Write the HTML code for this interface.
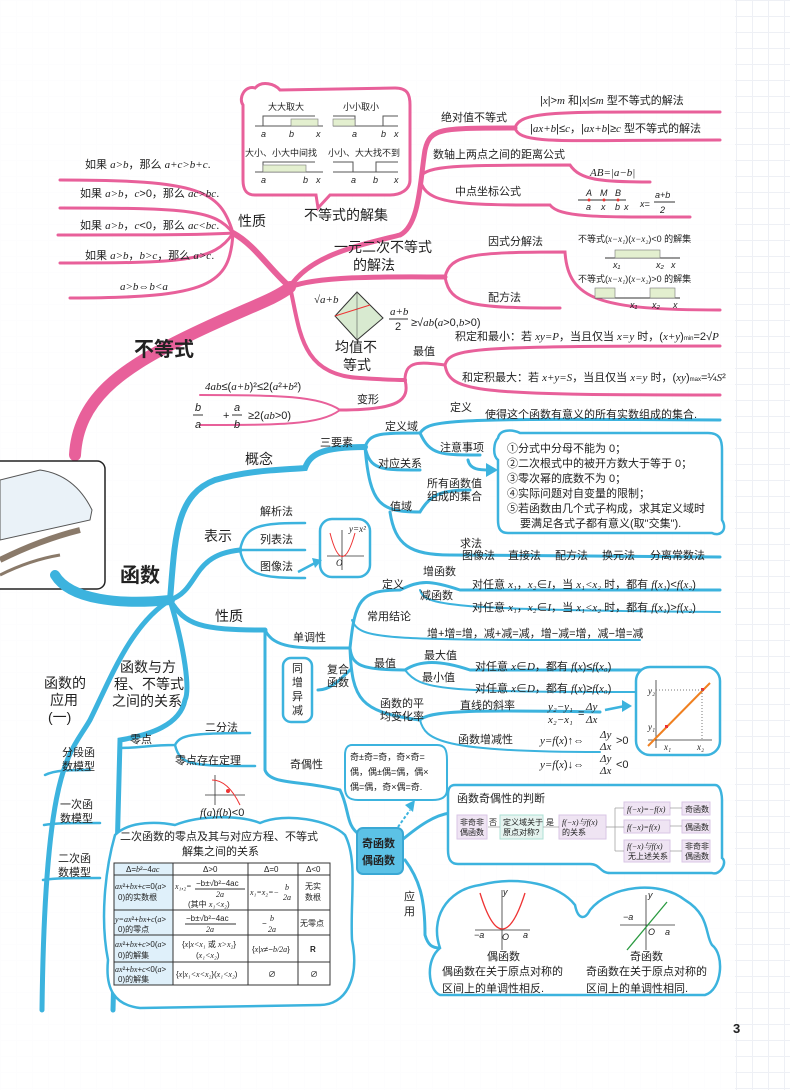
<!DOCTYPE html>
<html><head><meta charset="utf-8">
<style>
html,body{margin:0;padding:0;background:#fff;}
#wrap{width:790px;height:1090px;position:relative;overflow:hidden;
background-color:#fff;
background-image:linear-gradient(#eef0f5 1px,transparent 1px),linear-gradient(90deg,#eef0f5 1px,transparent 1px);
background-size:16px 16px;}
svg{position:absolute;left:0;top:0;}
text{font-family:"Liberation Sans","Noto Sans CJK SC",sans-serif;fill:#222;}
.s{font-size:11px;}
.xs{font-size:9px;}
.m{font-size:14px;}
.L{font-size:20px;font-weight:bold;}
.i{font-family:"Liberation Serif","Noto Serif CJK SC",serif;font-style:italic;}
.pk{stroke:#e8609a;fill:none;stroke-linecap:round;}
.bl{stroke:#3cb3de;fill:none;stroke-linecap:round;}
</style></head><body><div id="wrap">
<svg width="790" height="1090" viewBox="0 0 790 1090" xmlns="http://www.w3.org/2000/svg">
<!-- white content zone -->
<rect x="0" y="0" width="735" height="1090" fill="#fff" opacity="0.85"/>

<!-- ================= PINK ================= -->
<!-- trunk -->
<path class="pk" stroke-width="12" d="M75 455 C78 400,120 370,180 340 C240 310,275 300,290 287"/>
<path class="pk" stroke-width="6" d="M290 287 C270 270,255 245,233 233"/>
<!-- 性质 fan -->
<path class="pk" stroke-width="3" d="M233 233 C220 190,200 180,60 180"/>
<path class="pk" stroke-width="3" d="M233 233 C215 210,190 208,60 208"/>
<path class="pk" stroke-width="3" d="M233 233 C200 235,150 235,58 235"/>
<path class="pk" stroke-width="3" d="M233 233 C215 262,180 263,60 263"/>
<path class="pk" stroke-width="3" d="M233 233 C230 285,210 298,70 298"/>
<!-- to top right -->
<path class="pk" stroke-width="5" d="M290 287 C310 255,360 245,400 235 C420 225,420 180,425 150 C430 128,440 128,515 128"/>
<path class="pk" stroke-width="3" d="M515 128 C520 110,560 112,720 112"/>
<path class="pk" stroke-width="3" d="M515 128 C520 145,560 140,720 140"/>
<path class="pk" stroke-width="3" d="M422 175 C430 165,470 165,570 165 C580 180,600 182,650 182"/>
<path class="pk" stroke-width="3" d="M422 185 C430 205,470 205,550 205 C560 218,600 217,690 217"/>
<!-- 一元二次 -->
<path class="pk" stroke-width="5" d="M290 287 C320 275,400 277,445 277"/>
<path class="pk" stroke-width="3" d="M445 277 C450 255,470 252,565 252 C568 300,600 310,720 310"/>
<path class="pk" stroke-width="3" d="M445 277 C450 305,470 308,560 308"/>
<!-- 均值 -->
<path class="pk" stroke-width="4" d="M290 287 C300 330,300 375,360 378 C390 380,400 380,405 380"/>
<path class="pk" stroke-width="3" d="M405 380 C405 360,420 362,445 365"/>
<path class="pk" stroke-width="3" d="M445 365 C450 348,470 346,720 346"/>
<path class="pk" stroke-width="3" d="M445 365 C450 392,470 395,720 395"/>
<path class="pk" stroke-width="3" d="M405 380 C410 400,400 410,340 410"/>
<path class="pk" stroke-width="2" d="M340 410 C320 396,280 395,200 395"/>
<path class="pk" stroke-width="2" d="M340 410 C320 425,280 425,200 425"/>

<!-- speech bubble -->
<path stroke="#e8609a" stroke-width="3" fill="#fff" d="M255 88 C262 80,275 84,280 90 L395 88 C408 88,410 95,410 105 L410 180 C410 190,400 195,390 195 L330 195 L318 208 L316 195 L255 195 C245 195,243 188,243 180 L243 105 C238 98,245 85,255 88Z"/>
<g class="xs">
<text x="268" y="110">大大取大</text><text x="343" y="110">小小取小</text>
<text x="245" y="156">大小、小大中间找</text><text x="328" y="156">小小、大大找不到</text>
</g>
<g stroke="#555" stroke-width="1" fill="none">
<line x1="255" y1="126" x2="323" y2="126"/><line x1="333" y1="126" x2="398" y2="126"/>
<line x1="255" y1="172" x2="323" y2="172"/><line x1="333" y1="172" x2="398" y2="172"/>
<polyline points="263,126 263,116 315,116"/><polyline points="263,172 263,162 315,162"/>
<polyline points="355,126 355,116 333,116"/><polyline points="383,126 383,116 398,116"/>
<polyline points="353,172 353,162 333,162"/><polyline points="376,172 376,162 398,162"/>
</g>
<rect x="291" y="119" width="27" height="7" fill="#e3efcf" stroke="#777" stroke-width=".6"/>
<rect x="333" y="119" width="22" height="7" fill="#e3efcf" stroke="#777" stroke-width=".6"/>
<rect x="263" y="165" width="43" height="7" fill="#e3efcf" stroke="#777" stroke-width=".6"/>
<g class="xs i"><text x="261" y="137">a</text><text x="289" y="137">b</text><text x="316" y="137">x</text>
<text x="352" y="137">a</text><text x="381" y="137">b</text><text x="394" y="137">x</text>
<text x="261" y="183">a</text><text x="303" y="183">b</text><text x="316" y="183">x</text>
<text x="351" y="183">a</text><text x="373" y="183">b</text><text x="394" y="183">x</text></g>

<!-- pink texts -->
<g class="s">
<text x="85" y="168">如果 <tspan class="i">a&gt;b</tspan>，那么 <tspan class="i">a+c&gt;b+c</tspan>.</text>
<text x="80" y="197">如果 <tspan class="i">a&gt;b</tspan>，<tspan class="i">c</tspan>&gt;0，那么 <tspan class="i">ac&gt;bc</tspan>.</text>
<text x="80" y="229">如果 <tspan class="i">a&gt;b</tspan>，<tspan class="i">c</tspan>&lt;0，那么 <tspan class="i">ac&lt;bc</tspan>.</text>
<text x="85" y="259">如果 <tspan class="i">a&gt;b</tspan>，<tspan class="i">b&gt;c</tspan>，那么 <tspan class="i">a&gt;c</tspan>.</text>
<text x="120" y="290" class="i">a&gt;b⇔b&lt;a</text>
<text x="441" y="121">绝对值不等式</text>
<text x="540" y="104">|<tspan class="i">x</tspan>|&gt;<tspan class="i">m</tspan> 和|<tspan class="i">x</tspan>|≤<tspan class="i">m</tspan> 型不等式的解法</text>
<text x="530" y="132">|<tspan class="i">ax+b</tspan>|≤<tspan class="i">c</tspan>，|<tspan class="i">ax+b</tspan>|≥<tspan class="i">c</tspan> 型不等式的解法</text>
<text x="433" y="158">数轴上两点之间的距离公式</text>
<text x="590" y="176" class="i">AB=|a−b|</text>
<text x="455" y="195">中点坐标公式</text>
<text x="488" y="245">因式分解法</text>
<text x="488" y="301">配方法</text>
<text x="578" y="242" class="xs">不等式(<tspan class="i">x−x₁</tspan>)(<tspan class="i">x−x₂</tspan>)&lt;0 的解集</text>
<text x="578" y="282" class="xs">不等式(<tspan class="i">x−x₁</tspan>)(<tspan class="i">x−x₂</tspan>)&gt;0 的解集</text>
<text x="413" y="355">最值</text>
<text x="455" y="340">积定和最小：若 <tspan class="i">xy=P</tspan>，当且仅当 <tspan class="i">x=y</tspan> 时，(<tspan class="i">x+y</tspan>)<tspan font-size="6">min</tspan>=2√<tspan class="i">P</tspan></text>
<text x="462" y="381">和定积最大：若 <tspan class="i">x+y=S</tspan>，当且仅当 <tspan class="i">x=y</tspan> 时，(<tspan class="i">xy</tspan>)<tspan font-size="6">max</tspan>=¼<tspan class="i">S</tspan>²</text>
<text x="357" y="403">变形</text>
<text x="205" y="390"><tspan class="i">4ab</tspan>≤(<tspan class="i">a+b</tspan>)²≤2(<tspan class="i">a</tspan>²+<tspan class="i">b</tspan>²)</text>
<text x="223" y="419">+</text><text x="248" y="419">≥2(<tspan class="i">ab</tspan>&gt;0)</text>
</g>
<g class="s i"><text x="195" y="411">b</text><text x="195" y="428">a</text><text x="234" y="411">a</text><text x="234" y="428">b</text></g>
<line x1="193" y1="415" x2="203" y2="415" stroke="#333"/><line x1="232" y1="415" x2="242" y2="415" stroke="#333"/>
<!-- midpoint diagram -->
<line x1="578" y1="200" x2="626" y2="200" stroke="#333"/>
<g fill="#e33"><circle cx="589" cy="200" r="1.5"/><circle cx="604" cy="200" r="1.5"/><circle cx="618" cy="200" r="1.5"/></g>
<g class="xs i"><text x="586" y="196">A</text><text x="600" y="196">M</text><text x="615" y="196">B</text><text x="586" y="210">a</text><text x="601" y="210">x</text><text x="615" y="210">b</text><text x="624" y="210">x</text>
<text x="640" y="207">x=</text><text x="655" y="198">a+b</text><text x="660" y="213">2</text></g>
<line x1="654" y1="202" x2="675" y2="202" stroke="#333"/>
<!-- quadratic sets -->
<line x1="605" y1="258" x2="680" y2="258" stroke="#333"/>
<rect x="615" y="250" width="45" height="8" fill="#e3efcf" stroke="#777" stroke-width=".6"/>
<line x1="595" y1="298" x2="680" y2="298" stroke="#333"/>
<rect x="595" y="288" width="20" height="10" fill="#e3efcf" stroke="#777" stroke-width=".6"/>
<rect x="650" y="288" width="25" height="10" fill="#e3efcf" stroke="#777" stroke-width=".6"/>
<g class="xs i"><text x="613" y="268">x₁</text><text x="656" y="268">x₂</text><text x="671" y="268">x</text><text x="630" y="308">x₁</text><text x="652" y="308">x₂</text><text x="673" y="308">x</text></g>
<!-- AM-GM diagram -->
<polygon points="357,292 383,318 357,340 335,316" fill="#d8ead0" stroke="#333" stroke-width="1"/>
<line x1="335" y1="316" x2="370" y2="305" stroke="#e33"/><line x1="357" y1="292" x2="357" y2="340" stroke="#555" stroke-width=".6"/>
<text x="314" y="303" class="s i">√a+b</text>
<text x="390" y="315" class="s i">a+b</text><text x="395" y="330" class="s">2</text>
<line x1="389" y1="319" x2="408" y2="319" stroke="#333"/>
<text x="411" y="326" class="s">≥√<tspan class="i">ab</tspan>(<tspan class="i">a</tspan>&gt;0,<tspan class="i">b</tspan>&gt;0)</text>

<g class="m"><text x="238" y="226">性质</text><text x="304" y="220">不等式的解集</text>
<text x="334" y="252">一元二次不等式</text><text x="353" y="270">的解法</text>
<text x="335" y="352">均值不</text><text x="343" y="370">等式</text></g>
<text x="134" y="356" class="L">不等式</text>

<!-- ================= BLUE ================= -->
<!-- train box -->
<rect x="-10" y="461" width="115" height="128" rx="8" fill="#fff" stroke="#222" stroke-width="1.5"/>
<path d="M0 480 L40 470 Q75 475,92 510 L90 520 L0 540Z" fill="#eaf2f8" stroke="#555"/>
<path d="M0 560 Q40 540,80 530" stroke="#8a7a6a" stroke-width="6" fill="none"/>
<path d="M0 575 Q30 560,60 555" stroke="#8a7a6a" stroke-width="3" fill="none"/>
<!-- trunk & branches -->
<path class="bl" stroke-width="10" d="M55 575 C70 600,120 605,170 600"/>
<path class="bl" stroke-width="6" d="M170 600 C175 540,175 495,215 480 C250 470,280 470,305 468 C310 455,320 447,365 447"/>
<path class="bl" stroke-width="3" d="M365 447 C370 433,380 433,420 433 C430 420,440 418,720 420"/>
<path class="bl" stroke-width="3" d="M365 447 C370 470,380 470,420 470"/>
<path class="bl" stroke-width="3" d="M365 447 C370 505,380 512,420 512 C430 495,440 490,470 490"/>
<path class="bl" stroke-width="3" d="M420 433 C430 455,440 455,480 455"/>
<path class="bl" stroke-width="3" d="M390 512 C395 545,410 555,450 555 L720 557"/>
<path class="bl" stroke-width="5" d="M170 600 C200 590,190 555,240 550"/>
<path class="bl" stroke-width="2.5" d="M240 550 C245 525,260 523,305 523"/>
<path class="bl" stroke-width="2.5" d="M240 550 L305 550"/>
<path class="bl" stroke-width="2.5" d="M240 550 C245 575,260 578,305 578"/>
<path class="bl" stroke-width="5" d="M170 600 C185 625,200 630,265 630"/>
<path class="bl" stroke-width="3" d="M265 630 L265 770 C270 785,300 780,340 790 C350 810,345 825,360 835"/>
<path class="bl" stroke-width="3" d="M265 630 C275 650,300 648,350 648"/>
<path class="bl" stroke-width="3" d="M350 648 C355 600,360 590,400 590 C420 580,430 580,460 590 L720 590"/>
<path class="bl" stroke-width="2" d="M420 590 C425 605,440 610,720 612"/>
<path class="bl" stroke-width="2" d="M352 620 C360 640,380 640,640 640"/>
<path class="bl" stroke-width="3" d="M350 648 C352 665,360 670,405 670 C420 660,440 660,470 670 L640 670"/>
<path class="bl" stroke-width="2" d="M405 670 C420 690,440 692,640 692"/>
<path class="bl" stroke-width="3" d="M350 648 C352 700,360 712,420 720 C430 710,480 710,600 712"/>
<path class="bl" stroke-width="2" d="M420 720 C425 740,440 752,600 752"/>
<path class="bl" stroke-width="3" d="M318 690 C330 690,340 680,350 670"/>
<path class="bl" stroke-width="5" d="M170 600 C185 650,190 690,185 700 C180 725,150 735,120 740 L113 1010"/>
<path class="bl" stroke-width="2.5" d="M120 748 C140 748,150 745,175 745 C180 735,190 733,250 733"/>
<path class="bl" stroke-width="2.5" d="M175 745 C180 765,190 766,255 766"/>
<path class="bl" stroke-width="5" d="M170 600 C130 625,110 680,90 720 C70 755,45 760,42 1010"/>
<path class="bl" stroke-width="2.5" d="M45 775 C55 770,70 770,90 770"/>
<path class="bl" stroke-width="2.5" d="M44 825 C55 823,70 823,100 823"/>
<path class="bl" stroke-width="2.5" d="M43 880 C55 878,70 878,100 878"/>
<path class="bl" stroke-width="3" d="M405 860 C420 880,425 900,425 935 C428 945,432 948,440 948"/>
<path class="bl" stroke-width="3" d="M402 840 C420 825,435 815,450 813"/>
<path d="M398 827 L410 810" stroke="#3cb3de" stroke-width="2" stroke-dasharray="3,2"/>
<polygon points="405,805 415,800 413,812" fill="#3cb3de"/>

<!-- note bubble -->
<path d="M498 438 C500 428,515 430,520 433 L708 433 C720 433,722 440,722 450 L722 520 C728 530,720 537,712 533 L508 533 C500 533,498 528,498 520 L498 460 C492 455,494 442,498 438Z" fill="#fff" stroke="#3cb3de" stroke-width="2.5"/>
<path d="M468 460 C470 470,480 470,490 470" class="bl" stroke-width="3"/>
<polygon points="486,463 498,470 486,477" fill="#3cb3de"/>
<g class="s">
<text x="507" y="452">①分式中分母不能为 0；</text>
<text x="507" y="467">②二次根式中的被开方数大于等于 0；</text>
<text x="507" y="482">③零次幂的底数不为 0；</text>
<text x="507" y="497">④实际问题对自变量的限制；</text>
<text x="507" y="512">⑤若函数由几个式子构成，求其定义域时</text>
<text x="520" y="527">要满足各式子都有意义(取"交集").</text>
</g>
<!-- small graph bubbles -->
<rect x="320" y="519" width="50" height="58" rx="12" fill="#fff" stroke="#3cb3de" stroke-width="2.5"/>
<line x1="327" y1="556" x2="364" y2="556" stroke="#333" stroke-width=".8"/><line x1="342" y1="530" x2="342" y2="570" stroke="#333" stroke-width=".8"/>
<path d="M330 533 Q342 580,355 533" stroke="#e33" fill="none"/>
<text x="349" y="532" class="xs i">y=x²</text><text x="336" y="566" class="xs i">O</text>
<path d="M298 572 L315 563" stroke="#3cb3de" stroke-width="2.5"/><polygon points="312,558 322,560 315,568" fill="#3cb3de"/>
<rect x="636" y="667" width="84" height="88" rx="14" fill="#fff" stroke="#3cb3de" stroke-width="2.5"/>
<line x1="648" y1="740" x2="712" y2="740" stroke="#333" stroke-width=".8"/><line x1="656" y1="680" x2="656" y2="748" stroke="#333" stroke-width=".8"/>
<line x1="648" y1="746" x2="710" y2="683" stroke="#f08020" stroke-width="2"/>
<rect x="665" y="725" width="3" height="3" fill="#e33"/><rect x="701" y="688" width="3" height="3" fill="#e33"/>
<line x1="656" y1="690" x2="702" y2="690" stroke="#777" stroke-dasharray="1,2"/><line x1="702" y1="690" x2="702" y2="740" stroke="#777" stroke-dasharray="1,2"/>
<text x="648" y="694" class="xs i">y₂</text><text x="648" y="730" class="xs i">y₁</text><text x="664" y="750" class="xs i">x₁</text><text x="697" y="750" class="xs i">x₂</text>
<path d="M605 710 L625 706" stroke="#3cb3de" stroke-width="2.5"/><polygon points="622,700 632,706 622,712" fill="#3cb3de"/>
<!-- 同增异减 -->
<rect x="283" y="658" width="29" height="64" rx="8" fill="#fff" stroke="#3cb3de" stroke-width="2.5"/>
<g class="s"><text x="292" y="672">同</text><text x="292" y="686">增</text><text x="292" y="700">异</text><text x="292" y="714">减</text></g>
<!-- odd/even small bubble -->
<path d="M352 745 L437 745 C445 745,447 750,447 760 L447 790 C447 798,440 800,432 800 L358 800 C348 800,345 795,345 788 L345 755 C345 748,348 745,352 745Z" fill="#fff" stroke="#3cb3de" stroke-width="2"/>
<g class="xs" font-size="10"><text x="350" y="760">奇±奇=奇，奇×奇=</text><text x="350" y="775">偶，偶±偶=偶，偶×</text><text x="350" y="790">偶=偶，奇×偶=奇.</text></g>
<!-- 奇函数偶函数 block -->
<rect x="357" y="828" width="46" height="46" rx="6" fill="#5cc2e6" stroke="#3aa8d4" stroke-width="2"/>
<text x="362" y="847" class="s" font-weight="bold">奇函数</text><text x="362" y="864" class="s" font-weight="bold">偶函数</text>
<!-- judgement bubble -->
<path d="M455 785 L715 785 C722 785,722 800,722 800 L722 858 C728 862,720 876,712 873 L610 873 C600 873,600 864,590 864 L458 864 C450 864,448 858,448 850 L448 795 C448 788,450 785,455 785Z" fill="#fff" stroke="#3cb3de" stroke-width="2.5"/>
<text x="457" y="802" class="s">函数奇偶性的判断</text>
<g font-size="8">
<rect x="457" y="815" width="30" height="24" fill="#efe4f3" stroke="#d9c6e6"/><text x="460" y="825">非奇非</text><text x="460" y="835">偶函数</text>
<rect x="500" y="815" width="43" height="24" fill="#e6f4f0" stroke="#aee0d6"/><text x="503" y="825">定义域关于</text><text x="503" y="835">原点对称?</text>
<rect x="559" y="815" width="47" height="24" fill="#efe4f3" stroke="#d9c6e6"/><text x="562" y="825" class="i">f(−x)与f(x)</text><text x="562" y="835">的关系</text>
<rect x="624" y="802" width="46" height="13" fill="#efe4f3" stroke="#d9c6e6"/><text x="627" y="812" class="i">f(−x)=−f(x)</text>
<rect x="624" y="820" width="46" height="13" fill="#efe4f3" stroke="#d9c6e6"/><text x="627" y="830" class="i">f(−x)=f(x)</text>
<rect x="624" y="840" width="46" height="22" fill="#efe4f3" stroke="#d9c6e6"/><text x="627" y="849" class="i">f(−x)与f(x)</text><text x="628" y="859">无上述关系</text>
<rect x="682" y="802" width="28" height="13" fill="#efe4f3" stroke="#d9c6e6"/><text x="685" y="812">奇函数</text>
<rect x="682" y="820" width="28" height="13" fill="#efe4f3" stroke="#d9c6e6"/><text x="685" y="830">偶函数</text>
<rect x="682" y="840" width="28" height="22" fill="#efe4f3" stroke="#d9c6e6"/><text x="685" y="849">非奇非</text><text x="685" y="859">偶函数</text>
<text x="489" y="825">否</text><text x="546" y="825">是</text>
</g>
<g stroke="#999" stroke-width=".7" fill="none"><line x1="488" y1="827" x2="500" y2="827"/><line x1="543" y1="827" x2="559" y2="827"/><line x1="606" y1="827" x2="624" y2="827"/>
<polyline points="615,808 615,851"/><line x1="615" y1="808" x2="624" y2="808"/><line x1="615" y1="851" x2="624" y2="851"/>
<line x1="670" y1="808" x2="682" y2="808"/><line x1="670" y1="826" x2="682" y2="826"/><line x1="670" y1="851" x2="682" y2="851"/></g>
<!-- application cloud -->
<path d="M440 948 C430 920,445 890,480 885 C520 875,560 885,575 905 C578 920,585 920,590 910 C610 885,660 880,685 900 C710 915,705 935,712 945 C725 955,722 990,705 995 L440 995 C428 990,425 960,440 948Z" fill="#fff" stroke="#3cb3de" stroke-width="2.5"/>
<g stroke="#333" stroke-width=".8"><line x1="475" y1="930" x2="530" y2="930"/><line x1="502" y1="890" x2="502" y2="950"/>
<line x1="620" y1="925" x2="675" y2="925"/><line x1="646" y1="895" x2="646" y2="950"/></g>
<path d="M480 893 Q502 965,525 893" stroke="#e33" fill="none" stroke-width="1.3"/>
<line x1="627" y1="950" x2="667" y2="902" stroke="#2a9a40" stroke-width="1.3"/>
<g class="xs i"><text x="474" y="938">−a</text><text x="502" y="940">O</text><text x="523" y="938">a</text><text x="503" y="895">y</text>
<text x="623" y="920">−a</text><text x="648" y="935">O</text><text x="665" y="935">a</text><text x="648" y="898">y</text></g>
<g class="s"><text x="487" y="960">偶函数</text><text x="630" y="960">奇函数</text>
<text x="442" y="975">偶函数在关于原点对称的</text><text x="442" y="992">区间上的单调性相反.</text>
<text x="586" y="975">奇函数在关于原点对称的</text><text x="586" y="992">区间上的单调性相同.</text></g>
<!-- table cloud -->
<path d="M115 835 C130 820,160 822,175 825 C200 815,240 815,260 823 C285 812,330 820,345 835 C358 860,350 900,352 940 C360 980,345 1005,320 1005 L140 1008 C115 1005,105 990,108 960 C100 920,105 870,115 835Z" fill="#fff" stroke="#3cb3de" stroke-width="2.5"/>
<text x="120" y="840" class="s">二次函数的零点及其与对应方程、不等式</text>
<text x="182" y="855" class="s">解集之间的关系</text>
<rect x="114" y="863" width="59" height="122" fill="#dff0fa"/>
<g stroke="#333" stroke-width="1" fill="none"><rect x="114" y="863" width="216" height="122"/>
<line x1="173" y1="863" x2="173" y2="985"/><line x1="248" y1="863" x2="248" y2="985"/><line x1="298" y1="863" x2="298" y2="985"/>
<line x1="114" y1="875" x2="330" y2="875"/><line x1="114" y1="910" x2="330" y2="910"/><line x1="114" y1="935" x2="330" y2="935"/><line x1="114" y1="962" x2="330" y2="962"/></g>
<g font-size="8">
<text x="126" y="872">Δ=<tspan class="i">b</tspan>²−4<tspan class="i">ac</tspan></text><text x="203" y="872">Δ&gt;0</text><text x="264" y="872">Δ=0</text><text x="306" y="872">Δ&lt;0</text>
<text x="115" y="889"><tspan class="i">ax</tspan>²+<tspan class="i">bx</tspan>+<tspan class="i">c</tspan>=0(<tspan class="i">a</tspan>&gt;</text><text x="118" y="900">0)的实数根</text>
<text x="175" y="889" class="i">x₁,₂=</text><text x="196" y="886">−b±√b²−4ac</text><line x1="195" y1="889" x2="245" y2="889" stroke="#333"/><text x="216" y="897" class="i">2a</text>
<text x="188" y="907">(其中 <tspan class="i">x₁&lt;x₂</tspan>)</text>
<text x="250" y="895" class="i">x₁=x₂=−</text><text x="285" y="890" class="i">b</text><text x="283" y="900" class="i">2a</text>
<text x="305" y="889">无实</text><text x="305" y="900">数根</text>
<text x="115" y="922"><tspan class="i">y=ax</tspan>²+<tspan class="i">bx</tspan>+<tspan class="i">c</tspan>(<tspan class="i">a</tspan>&gt;</text><text x="118" y="932">0)的零点</text>
<text x="186" y="921">−b±√b²−4ac</text><line x1="185" y1="924" x2="236" y2="924" stroke="#333"/><text x="206" y="932" class="i">2a</text>
<text x="262" y="926">−</text><text x="270" y="921" class="i">b</text><text x="268" y="932" class="i">2a</text>
<text x="300" y="926">无零点</text>
<text x="115" y="947"><tspan class="i">ax</tspan>²+<tspan class="i">bx</tspan>+<tspan class="i">c</tspan>&gt;0(<tspan class="i">a</tspan>&gt;</text><text x="118" y="958">0)的解集</text>
<text x="182" y="947">{<tspan class="i">x</tspan>|<tspan class="i">x&lt;x₁</tspan> 或 <tspan class="i">x&gt;x₂</tspan>}</text><text x="196" y="958">(<tspan class="i">x₁&lt;x₂</tspan>)</text>
<text x="252" y="952">{<tspan class="i">x</tspan>|<tspan class="i">x</tspan>≠−<tspan class="i">b/2a</tspan>}</text><text x="310" y="952" font-weight="bold">R</text>
<text x="115" y="972"><tspan class="i">ax</tspan>²+<tspan class="i">bx</tspan>+<tspan class="i">c</tspan>&lt;0(<tspan class="i">a</tspan>&gt;</text><text x="118" y="982">0)的解集</text>
<text x="176" y="977">{<tspan class="i">x</tspan>|<tspan class="i">x₁&lt;x&lt;x₂</tspan>}(<tspan class="i">x₁&lt;x₂</tspan>)</text>
<text x="268" y="977">∅</text><text x="310" y="977">∅</text>
</g>
<!-- zero theorem graph -->
<line x1="205" y1="795" x2="245" y2="795" stroke="#333" stroke-width=".8"/><line x1="215" y1="775" x2="215" y2="805" stroke="#333" stroke-width=".8"/>
<path d="M212 780 Q228 780,240 805" stroke="#e33" fill="none"/><circle cx="228" cy="791" r="2" fill="#e33"/>
<text x="200" y="816" class="s"><tspan class="i">f</tspan>(<tspan class="i">a</tspan>)<tspan class="i">f</tspan>(<tspan class="i">b</tspan>)&lt;0</text>

<!-- blue labels -->
<g class="s">
<text x="320" y="446">三要素</text><text x="385" y="430">定义域</text><text x="378" y="467">对应关系</text>
<text x="390" y="510">值域</text><text x="450" y="411">定义</text>
<text x="485" y="418">使得这个函数有意义的所有实数组成的集合.</text>
<text x="440" y="451">注意事项</text>
<text x="427" y="487">所有函数值</text><text x="427" y="500">组成的集合</text>
<text x="460" y="547">求法</text>
<text x="462" y="559">图像法</text><text x="508" y="559">直接法</text><text x="555" y="559">配方法</text><text x="602" y="559">换元法</text><text x="650" y="559">分离常数法</text>
<text x="260" y="515">解析法</text><text x="260" y="543">列表法</text><text x="260" y="570">图像法</text>
<text x="293" y="641">单调性</text>
<text x="382" y="588">定义</text><text x="423" y="575">增函数</text><text x="420" y="599">减函数</text>
<text x="472" y="588">对任意 <tspan class="i">x₁</tspan>，<tspan class="i">x₂</tspan>∈<tspan class="i">I</tspan>，当 <tspan class="i">x₁&lt;x₂</tspan> 时，都有 <tspan class="i">f</tspan>(<tspan class="i">x₁</tspan>)&lt;<tspan class="i">f</tspan>(<tspan class="i">x₂</tspan>)</text>
<text x="472" y="611">对任意 <tspan class="i">x₁</tspan>，<tspan class="i">x₂</tspan>∈<tspan class="i">I</tspan>，当 <tspan class="i">x₁&lt;x₂</tspan> 时，都有 <tspan class="i">f</tspan>(<tspan class="i">x₁</tspan>)&gt;<tspan class="i">f</tspan>(<tspan class="i">x₂</tspan>)</text>
<text x="367" y="620">常用结论</text>
<text x="427" y="637">增+增=增，减+减=减，增−减=增，减−增=减</text>
<text x="374" y="667">最值</text><text x="424" y="659">最大值</text><text x="422" y="681">最小值</text>
<text x="475" y="670">对任意 <tspan class="i">x</tspan>∈<tspan class="i">D</tspan>，都有 <tspan class="i">f</tspan>(<tspan class="i">x</tspan>)≤<tspan class="i">f</tspan>(<tspan class="i">x₀</tspan>)</text>
<text x="475" y="692">对任意 <tspan class="i">x</tspan>∈<tspan class="i">D</tspan>，都有 <tspan class="i">f</tspan>(<tspan class="i">x</tspan>)≥<tspan class="i">f</tspan>(<tspan class="i">x₀</tspan>)</text>
<text x="380" y="707">函数的平</text><text x="380" y="720">均变化率</text>
<text x="460" y="709">直线的斜率</text><text x="458" y="743">函数增减性</text>
<text x="548" y="710" class="i">y₂−y₁</text><text x="548" y="723" class="i">x₂−x₁</text><text x="578" y="717">=</text><text x="586" y="710" class="i">Δy</text><text x="586" y="723" class="i">Δx</text>
<text x="540" y="744"><tspan class="i">y=f</tspan>(<tspan class="i">x</tspan>)↑⇔</text><text x="600" y="738" class="i">Δy</text><text x="600" y="750" class="i">Δx</text><text x="616" y="744">&gt;0</text>
<text x="540" y="768"><tspan class="i">y=f</tspan>(<tspan class="i">x</tspan>)↓⇔</text><text x="600" y="762" class="i">Δy</text><text x="600" y="774" class="i">Δx</text><text x="616" y="768">&lt;0</text>
<text x="327" y="673">复合</text><text x="327" y="686">函数</text>
<text x="290" y="768">奇偶性</text>
<text x="404" y="900">应</text><text x="404" y="915">用</text>
<text x="130" y="743">零点</text><text x="205" y="731">二分法</text><text x="175" y="764">零点存在定理</text>
<text x="62" y="756">分段函</text><text x="62" y="770">数模型</text>
<text x="60" y="808">一次函</text><text x="60" y="822">数模型</text>
<text x="58" y="862">二次函</text><text x="58" y="876">数模型</text>
</g>
<g class="m"><text x="245" y="464">概念</text><text x="204" y="541">表示</text><text x="215" y="621">性质</text>
<text x="120" y="672">函数与方</text><text x="114" y="689">程、不等式</text><text x="112" y="706">之间的关系</text>
<text x="44" y="688">函数的</text><text x="50" y="705">应用</text><text x="48" y="722">(一)</text></g>
<text x="120" y="582" class="L">函数</text>

<text x="733" y="1033" font-size="13" font-weight="bold">3</text>
</svg>
</div></body></html>
